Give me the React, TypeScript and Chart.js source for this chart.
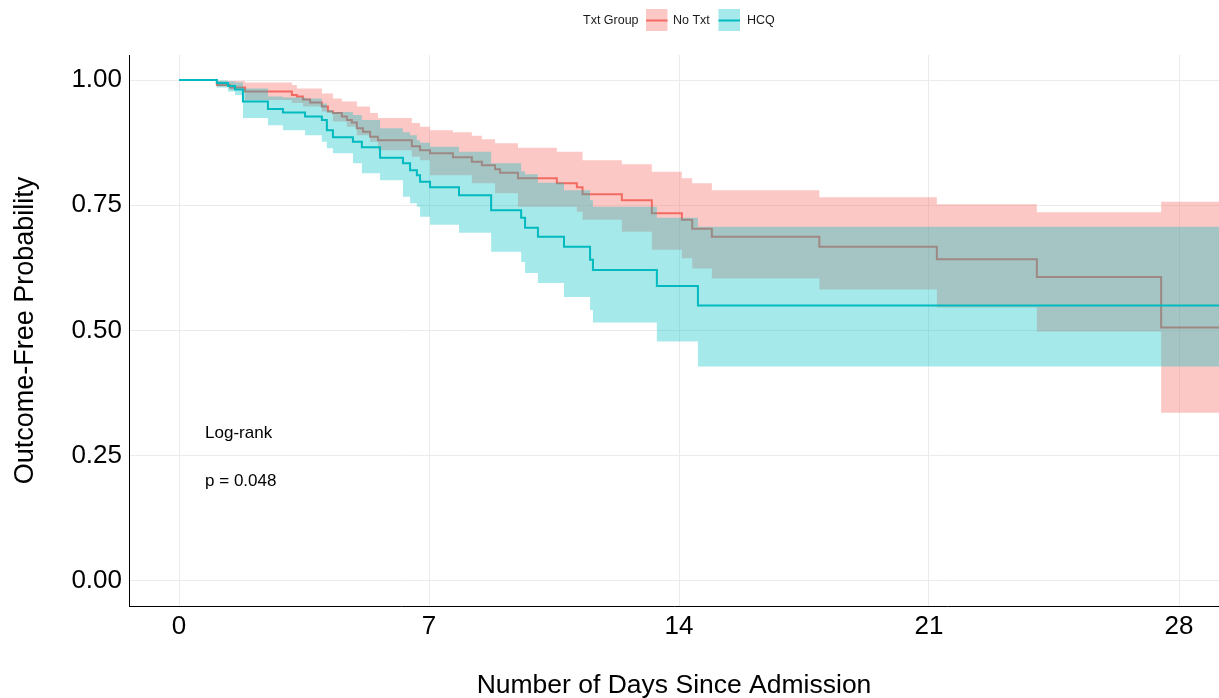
import React, { useEffect, useRef } from 'react';
import { Chart, registerables } from 'chart.js';

Chart.register(...registerables);

const FONT = "'Liberation Sans', Arial, Helvetica, sans-serif";

// ---- Data ----
const legendTitle = 'Txt Group';
const groupNames = ['No Txt', 'HCQ'];

const noTxtTimes = [0, 1.06, 1.43, 1.85, 3.16, 3.30, 3.47, 3.67, 4.00, 4.17, 4.31, 4.56, 4.70, 4.84, 4.98, 5.15, 5.35, 5.57, 6.52, 6.75, 7.03, 7.67, 8.20, 8.48, 8.85, 8.99, 9.49, 10.58, 11.14, 11.30, 12.40, 13.24, 14.08, 14.37, 14.92, 17.93, 21.22, 24.02, 27.50, 29.4];
const noTxtSurv = [1, 0.99, 0.985, 0.977, 0.970, 0.967, 0.961, 0.955, 0.947, 0.937, 0.934, 0.927, 0.920, 0.915, 0.904, 0.897, 0.887, 0.880, 0.868, 0.860, 0.854, 0.846, 0.837, 0.830, 0.822, 0.815, 0.804, 0.794, 0.786, 0.772, 0.760, 0.734, 0.721, 0.703, 0.687, 0.667, 0.642, 0.607, 0.506, 0.506];
const noTxtUpper = [1, 0.998, 0.998, 0.995, 0.990, 0.983, 0.983, 0.983, 0.973, 0.973, 0.963, 0.957, 0.957, 0.957, 0.947, 0.947, 0.934, 0.924, 0.914, 0.907, 0.900, 0.896, 0.889, 0.882, 0.874, 0.874, 0.865, 0.857, 0.857, 0.840, 0.832, 0.817, 0.804, 0.794, 0.780, 0.766, 0.752, 0.736, 0.757, 0.757];
const noTxtLower = [1, 0.987, 0.980, 0.960, 0.954, 0.954, 0.947, 0.947, 0.937, 0.937, 0.917, 0.917, 0.907, 0.907, 0.890, 0.890, 0.877, 0.860, 0.847, 0.840, 0.810, 0.810, 0.794, 0.794, 0.774, 0.774, 0.747, 0.747, 0.737, 0.721, 0.697, 0.661, 0.644, 0.624, 0.604, 0.582, 0.546, 0.498, 0.336, 0.336];

const hcqTimes = [0, 1.06, 1.37, 1.57, 1.79, 2.49, 2.91, 3.53, 4.00, 4.14, 4.31, 4.87, 5.12, 5.63, 6.27, 6.47, 6.66, 6.75, 7.03, 7.84, 8.74, 9.58, 9.69, 10.05, 10.78, 11.51, 11.59, 13.38, 14.53, 29.4];
const hcqSurv = [1, 0.994, 0.988, 0.981, 0.957, 0.942, 0.935, 0.927, 0.920, 0.900, 0.886, 0.877, 0.866, 0.845, 0.834, 0.820, 0.810, 0.797, 0.786, 0.770, 0.740, 0.725, 0.705, 0.687, 0.667, 0.641, 0.621, 0.589, 0.550, 0.550];
const hcqUpper = [1, 0.999, 0.997, 0.995, 0.983, 0.967, 0.965, 0.963, 0.953, 0.940, 0.936, 0.930, 0.920, 0.904, 0.896, 0.890, 0.880, 0.875, 0.867, 0.857, 0.834, 0.818, 0.812, 0.795, 0.780, 0.760, 0.747, 0.725, 0.707, 0.707];
const hcqLower = [1, 0.985, 0.977, 0.970, 0.924, 0.910, 0.900, 0.890, 0.877, 0.864, 0.854, 0.834, 0.814, 0.800, 0.767, 0.754, 0.747, 0.727, 0.711, 0.695, 0.657, 0.637, 0.615, 0.595, 0.567, 0.541, 0.516, 0.478, 0.428, 0.428];

const xTicks = [0, 7, 14, 21, 28];
const yTicks = [0, 0.25, 0.5, 0.75, 1];

const annotationLines = ['Log-rank', 'p = 0.048'];
const annotationX = 0.73;
const annotationY = [0.295, 0.198];

// ---- Styles ----
const RED = '#F26B62';
const TEAL = '#00BABF';
const RED_FILL = 'rgba(248,118,109,0.4)';
const TEAL_FILL = 'rgba(0,191,196,0.35)';

function pts(t: number[], v: number[]) {
  return t.map((x, i) => ({ x, y: v[i] }));
}

export default function App() {
  const ref = useRef<HTMLCanvasElement>(null);

  useEffect(() => {
    if (!ref.current) return;

    const legendPlugin = {
      id: 'ggLegend',
      afterDraw(chart: any) {
        const ctx = chart.ctx;
        ctx.save();
        ctx.font = `12.5px ${FONT}`;
        ctx.fillStyle = '#1a1a1a';
        ctx.textBaseline = 'middle';
        ctx.textAlign = 'left';
        const cy = 20.5;
        ctx.fillText(legendTitle, 583, cy);
        const keys = [
          { x: 646, fill: RED_FILL, line: RED, label: groupNames[0], lx: 673 },
          { x: 718.5, fill: TEAL_FILL, line: TEAL, label: groupNames[1], lx: 747 },
        ];
        keys.forEach((k) => {
          ctx.fillStyle = k.fill;
          ctx.fillRect(k.x, 9, 21.5, 22);
          ctx.strokeStyle = k.line;
          ctx.lineWidth = 2;
          ctx.beginPath();
          ctx.moveTo(k.x, cy);
          ctx.lineTo(k.x + 21.5, cy);
          ctx.stroke();
          ctx.fillStyle = '#1a1a1a';
          ctx.fillText(k.label, k.lx, cy);
        });
        ctx.restore();
      },
    };

    const annotationPlugin = {
      id: 'logrank',
      afterDatasetsDraw(chart: any) {
        const ctx = chart.ctx;
        const xs = chart.scales.x;
        const ys = chart.scales.y;
        ctx.save();
        ctx.font = `17px ${FONT}`;
        ctx.fillStyle = '#000';
        ctx.textBaseline = 'middle';
        ctx.textAlign = 'left';
        annotationLines.forEach((t, i) => {
          ctx.fillText(t, xs.getPixelForValue(annotationX), ys.getPixelForValue(annotationY[i]));
        });
        ctx.restore();
      },
    };

    const band = (label: string, data: any, color: string, fill: any, order: number) => ({
      label,
      data,
      borderColor: 'rgba(0,0,0,0)',
      borderWidth: 0,
      backgroundColor: color,
      fill,
      stepped: 'before' as const,
      pointRadius: 0,
      order,
    });

    const chart = new Chart(ref.current, {
      type: 'line',
      data: {
        datasets: [
          band('noTxtUpper', pts(noTxtTimes, noTxtUpper), RED_FILL, '+1', 5),
          band('noTxtLower', pts(noTxtTimes, noTxtLower), RED_FILL, false, 6),
          {
            label: groupNames[0],
            data: pts(noTxtTimes, noTxtSurv),
            borderColor: RED,
            borderWidth: 2,
            fill: false,
            stepped: 'before',
            pointRadius: 0,
            order: 4,
          },
          band('hcqUpper', pts(hcqTimes, hcqUpper), TEAL_FILL, '+1', 2),
          band('hcqLower', pts(hcqTimes, hcqLower), TEAL_FILL, false, 3),
          {
            label: groupNames[1],
            data: pts(hcqTimes, hcqSurv),
            borderColor: TEAL,
            borderWidth: 2,
            fill: false,
            stepped: 'before',
            pointRadius: 0,
            order: 1,
          },
        ] as any,
      },
      options: {
        responsive: false,
        animation: false,
        devicePixelRatio: 1,
        layout: { padding: { top: 55, left: 0, right: 0, bottom: 0 } },
        plugins: {
          legend: { display: false },
          tooltip: { enabled: false },
        },
        elements: { point: { radius: 0 }, line: { tension: 0 } },
        scales: {
          x: {
            type: 'linear',
            min: -1.4,
            max: 29.12,
            afterBuildTicks: (s: any) => {
              s.ticks = xTicks.map((v) => ({ value: v }));
            },
            afterFit: (s: any) => {
              s.height = 92;
            },
            grid: { color: '#EBEBEB', lineWidth: 1, drawTicks: false },
            border: { display: true, color: '#000', width: 1 },
            ticks: {
              padding: 5,
              color: '#000',
              font: { size: 26, family: FONT },
              callback: (v: any) => String(v),
            },
            title: {
              display: true,
              text: 'Number of Days Since Admission',
              color: '#000',
              font: { size: 26.5, family: FONT },
              padding: { top: 0, bottom: -4 },
            },
          },
          y: {
            type: 'linear',
            min: -0.05,
            max: 1.05,
            afterBuildTicks: (s: any) => {
              s.ticks = yTicks.map((v) => ({ value: v }));
            },
            afterFit: (s: any) => {
              s.width = 129;
            },
            grid: { color: '#EBEBEB', lineWidth: 1, drawTicks: false },
            border: { display: true, color: '#000', width: 1 },
            ticks: {
              padding: 7,
              color: '#000',
              font: { size: 26, family: FONT },
              callback: (v: any) => Number(v).toFixed(2),
            },
            title: {
              display: true,
              text: 'Outcome-Free Probability',
              color: '#000',
              font: { size: 27, family: FONT },
              padding: { top: 9, bottom: 0 },
            },
          },
        },
      } as any,
      plugins: [legendPlugin, annotationPlugin],
    });

    return () => chart.destroy();
  }, []);

  return (
    <div style={{ position: 'fixed', left: 0, top: 0, width: 1219, height: 698, background: '#fff' }}>
      <canvas ref={ref} width={1219} height={698} style={{ display: 'block' }} />
    </div>
  );
}
